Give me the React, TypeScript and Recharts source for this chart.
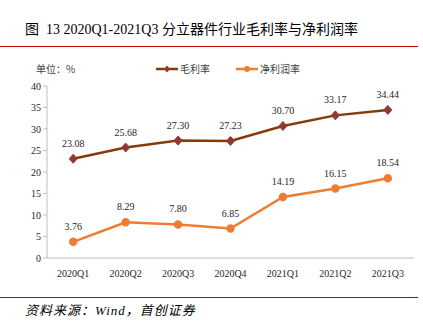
import { LineChart, Line, XAxis, YAxis, LabelList } from "recharts";

const quarters = ["2020Q1", "2020Q2", "2020Q3", "2020Q4", "2021Q1", "2021Q2", "2021Q3"];
const grossMargin = [23.08, 25.68, 27.3, 27.23, 30.7, 33.17, 34.44];
const netMargin = [3.76, 8.29, 7.8, 6.85, 14.19, 16.15, 18.54];
const yTicks = [0, 5, 10, 15, 20, 25, 30, 35, 40];
const boundaryTicks = [0, 1, 2, 3, 4, 5, 6, 7];

const data = quarters.map((q, i) => ({ q, gross: grossMargin[i], net: netMargin[i] }));

const serif = "Liberation Serif, serif";
const cjk = "'Noto Sans CJK SC', sans-serif";
const tickStyle = { fontSize: 10, fill: "#262626", fontFamily: serif };

const Diamond = (props: any) => {
  const { cx, cy } = props;
  if (cx == null || cy == null) return <g />;
  return (
    <path
      d={`M${cx},${cy - 4.5}L${cx + 4},${cy}L${cx},${cy + 4.5}L${cx - 4},${cy}Z`}
      fill="#953735"
      stroke="#953735"
    />
  );
};

const fmt = (v: any) => Number(v).toFixed(2);

export default function App() {
  return (
    <div style={{ position: "absolute", left: 0, top: 0, width: 423, height: 328, background: "#fff" }}>
      <div style={{ position: "absolute", left: 25, top: 18, fontSize: 14, color: "#000", whiteSpace: "nowrap" }}>
        <span style={{ fontFamily: cjk }}>图</span>
        <span style={{ fontFamily: serif }}>&nbsp;&nbsp;13 2020Q1-2021Q3 </span>
        <span style={{ fontFamily: cjk }}>分立器件行业毛利率与净利润率</span>
      </div>
      <div style={{ position: "absolute", left: 0, top: 46, width: 418, height: 1, background: "#c00000" }} />
      <div style={{ position: "absolute", left: 36, top: 61, fontSize: 10, color: "#404040", fontFamily: cjk }}>
        单位：%
      </div>
      <div style={{ position: "absolute", left: 156, top: 61, fontSize: 10, color: "#404040", fontFamily: cjk, display: "flex", alignItems: "center" }}>
        <svg width="22" height="10">
          <line x1="0" y1="5" x2="22" y2="5" stroke="#843C0C" strokeWidth="2.5" />
          <path d="M11,1.5L14,5L11,8.5L8,5Z" fill="#953735" />
        </svg>
        <span style={{ marginLeft: 2 }}>毛利率</span>
        <svg width="22" height="10" style={{ marginLeft: 26 }}>
          <line x1="0" y1="5" x2="22" y2="5" stroke="#ED7D31" strokeWidth="2.5" />
          <circle cx="11" cy="5" r="3" fill="#ED7D31" />
        </svg>
        <span style={{ marginLeft: 2 }}>净利润率</span>
      </div>
      <LineChart
        width={423}
        height={328}
        data={data}
        margin={{ top: 86, right: 9, left: 0, bottom: 50 }}
        style={{ position: "absolute", left: 0, top: 0, fontFamily: serif }}
      >
        <XAxis
          dataKey="q"
          xAxisId="cat"
          scale="band"
          tick={tickStyle}
          tickLine={false}
          axisLine={{ stroke: "#bfbfbf" }}
          height={20}
          tickMargin={6}
          interval={0}
        />
        <XAxis
          xAxisId="bnd"
          type="number"
          domain={[0, 7]}
          ticks={boundaryTicks}
          tick={false}
          tickLine={{ stroke: "#bfbfbf" }}
          tickSize={4}
          axisLine={false}
          height={0}
          allowDataOverflow
        />
        <YAxis
          width={47}
          domain={[0, 40]}
          ticks={yTicks}
          tick={tickStyle}
          tickLine={{ stroke: "#bfbfbf" }}
          tickSize={4}
          axisLine={{ stroke: "#bfbfbf" }}
        />
        <Line
          xAxisId="cat"
          dataKey="gross"
          stroke="#843C0C"
          strokeWidth={2.5}
          dot={<Diamond />}
          isAnimationActive={false}
        >
          <LabelList dataKey="gross" position="top" offset={12} formatter={fmt} style={tickStyle} />
        </Line>
        <Line
          xAxisId="cat"
          dataKey="net"
          stroke="#ED7D31"
          strokeWidth={2.5}
          dot={{ r: 3, fill: "#ED7D31", stroke: "#ED7D31" }}
          isAnimationActive={false}
        >
          <LabelList dataKey="net" position="top" offset={12} formatter={fmt} style={tickStyle} />
        </Line>
      </LineChart>
      <div style={{ position: "absolute", left: 0, top: 297, width: 418, height: 1, background: "#c00000" }} />
      <div style={{ position: "absolute", left: 25, top: 300, fontSize: 13, fontStyle: "italic", color: "#000", whiteSpace: "nowrap", letterSpacing: 1 }}>
        <span style={{ fontFamily: cjk }}>资料来源：</span>
        <span style={{ fontFamily: serif }}>Wind</span>
        <span style={{ fontFamily: cjk }}>，首创证券</span>
      </div>
    </div>
  );
}
